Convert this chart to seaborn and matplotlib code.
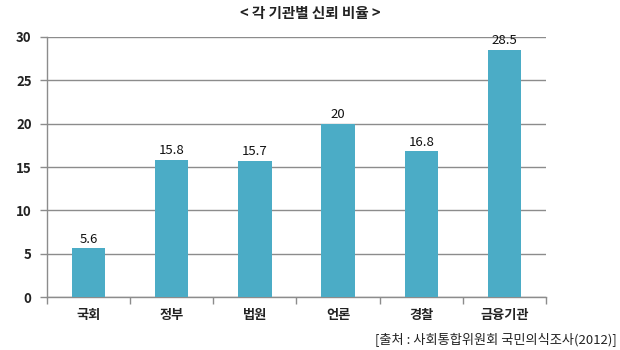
import matplotlib
matplotlib.use("Agg")
import matplotlib.pyplot as plt
import seaborn as sns
import pandas as pd
import numpy as np

categories = ["국회", "정부", "법원", "언론", "경찰", "금융기관"]
trust = [5.6, 15.8, 15.7, 20, 16.8, 28.5]
value_labels = ["5.6", "15.8", "15.7", "20", "16.8", "28.5"]
y_ticks = [0, 5, 10, 15, 20, 25, 30]

sns.set_theme(style="white")
plt.rcParams["font.family"] = ["Noto Sans CJK KR", "DejaVu Sans"]

df = pd.DataFrame({"기관": categories, "비율": trust})

fig = plt.figure(figsize=(6.2, 3.5), dpi=100)
ax = fig.add_axes([0.0758, 0.1514, 0.8048, 0.7429])

sns.barplot(data=df, x="기관", y="비율", color="#4BACC6", width=0.4,
            saturation=1, linewidth=0, ax=ax, zorder=3)

ax.set_ylim(0, 30)
ax.set_xlim(-0.5, len(categories) - 0.5)
ax.set_yticks(y_ticks)
ax.yaxis.grid(True, color="#8c8c8c", linewidth=1, zorder=0)
ax.set_xlabel("")
ax.set_ylabel("")

for s in ["top", "right"]:
    ax.spines[s].set_visible(False)
for s in ["left", "bottom"]:
    ax.spines[s].set_color("#8c8c8c")
    ax.spines[s].set_linewidth(1)

# category labels centred, tick marks on the category boundaries
ax.set_xticks(range(len(categories)))
ax.set_xticklabels(categories, fontsize=9.5, fontweight="bold", color="#222222")
ax.set_xticks(np.arange(-0.5, len(categories)), minor=True)
ax.tick_params(axis="x", which="major", length=0, pad=8)
ax.tick_params(axis="x", which="minor", length=5, color="#8c8c8c", width=1,
               direction="out", bottom=True)
ax.tick_params(axis="y", length=5, color="#8c8c8c", width=1, direction="out",
               left=True, labelsize=9.5, pad=6)
for lbl in ax.get_yticklabels():
    lbl.set_fontweight("bold")
    lbl.set_color("#222222")

for i, (v, t) in enumerate(zip(trust, value_labels)):
    ax.text(i, v + 0.3, t, ha="center", va="bottom", fontsize=9.5,
            fontweight="medium", color="#111111")

fig.text(0.5, 0.962, "< 각 기관별 신뢰 비율 >", ha="center", va="center",
         fontsize=10.5, fontweight="bold", color="#222222")
fig.text(0.995, 0.03, "[출처 : 사회통합위원회 국민의식조사(2012)]", ha="right",
         va="center", fontsize=9.5, color="#222222")

fig.savefig("out.png", dpi=100)
